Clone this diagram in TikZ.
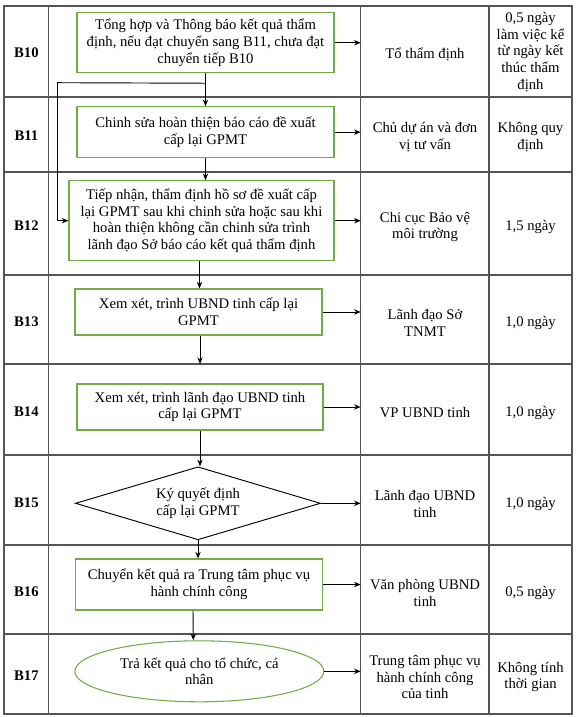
\documentclass[tikz,border=0pt]{standalone}
\usepackage{fontspec}
\setmainfont{Liberation Serif}
\usetikzlibrary{arrows.meta,shapes.geometric,calc}
\definecolor{boxgreen}{RGB}{112,173,71}
\definecolor{gridgray}{RGB}{85,85,85}
\tikzset{
  txt/.style={font=\fontsize{11pt}{12.5pt}\selectfont, align=center, inner sep=0pt},
  stepbox/.style={txt, draw=boxgreen, line width=0.8pt, rectangle},
  decbox/.style={txt, draw=black, line width=0.7pt, shape=diamond, aspect=3.3},
  endbox/.style={txt, draw=boxgreen, line width=0.8pt, shape=ellipse},
  lbl/.style={txt, font=\fontsize{11pt}{12.5pt}\selectfont\bfseries},
  cell/.style={txt, minimum width=96pt},
  arr/.style={draw=black, line width=0.7pt, -{Stealth[length=5pt,width=4pt]}},
  ln/.style={draw=black, line width=0.7pt},
  grid/.style={draw=gridgray, line width=0.9pt}
}
\begin{document}
\begin{tikzpicture}[x=0.75pt,y=-0.75pt]
\useasboundingbox (0,0) rectangle (576,717);
% table grid
\draw[grid] (4,6) rectangle (572,714);
\foreach \yy in {97,172,275,364,455,545,634}
  \draw[grid] (4,\yy) -- (572,\yy);
\foreach \xx in {48.7,360.7,489}
  \draw[grid] (\xx,6) -- (\xx,714);
% row labels
\node[lbl] (l10) at (26.4,53) {B10};
\node[lbl] (l11) at (26.4,136) {B11};
\node[lbl] (l12) at (26.4,226) {B12};
\node[lbl] (l13) at (26.4,322) {B13};
\node[lbl] (l14) at (26.4,412) {B14};
\node[lbl] (l15) at (26.4,503) {B15};
\node[lbl] (l16) at (26.4,592) {B16};
\node[lbl] (l17) at (26.4,676) {B17};
% flow boxes
\node[stepbox, minimum width=192.75pt, minimum height=45pt] (b10) at (205.5,42.7)
  {Tổng hợp và Thông báo kết quả thẩm\\định, nếu đạt chuyển sang B11, chưa đạt\\chuyển tiếp B10};
\node[stepbox, minimum width=192.75pt, minimum height=38.25pt] (b11) at (205.5,132.2)
  {Chinh sửa hoàn thiện báo cáo đề xuất\\cấp lại GPMT};
\node[stepbox, minimum width=198.75pt, minimum height=60pt] (b12) at (201.5,220.7)
  {Tiếp nhận, thẩm định hồ sơ đề xuất cấp\\lại GPMT sau khi chinh sửa hoặc sau khi\\hoàn thiện không cần chinh sửa trình\\lãnh đạo Sở báo cáo kết quả thẩm định};
\node[stepbox, minimum width=185.25pt, minimum height=34.5pt] (b13) at (198.5,312)
  {Xem xét, trình UBND tinh cấp lại\\GPMT};
\node[stepbox, minimum width=184.5pt, minimum height=34.5pt] (b14) at (200,407)
  {Xem xét, trình lãnh đạo UBND tinh\\cấp lại GPMT};
\node[decbox, minimum width=183.75pt, minimum height=54.75pt] (b15) at (198,503.3)
  {Ký quyết định\\cấp lại GPMT};
\node[stepbox, minimum width=185.25pt, minimum height=38.25pt] (b16) at (199,584.5)
  {Chuyển kết quả ra Trung tâm phục vụ\\hành chính công};
\node[endbox, minimum width=186.75pt, minimum height=45.75pt] (b17) at (199.3,671.3)
  {Trả kết quả cho tổ chức, cá\\nhân};
% column 3 cells
\node[cell] (c10) at (425,54) {Tổ thẩm định};
\node[cell] (c11) at (425,137) {Chủ dự án và đơn\\vị tư vấn};
\node[cell] (c12) at (425,227) {Chi cục Bảo vệ\\môi trường};
\node[cell] (c13) at (425,323) {Lãnh đạo Sở\\TNMT};
\node[cell] (c14) at (425,413) {VP UBND tinh};
\node[cell] (c15) at (425,504) {Lãnh đạo UBND\\tinh};
\node[cell] (c16) at (425,593) {Văn phòng UBND\\tinh};
\node[cell] (c17) at (425,677) {Trung tâm phục vụ\\hành chính công\\của tinh};
% column 4 cells
\node[txt] (d10) at (530.5,52) {0,5 ngày\\làm việc kể\\từ ngày kết\\thúc thẩm\\định};
\node[txt] (d11) at (530.5,137) {Không quy\\định};
\node[txt] (d12) at (530.5,227) {1,5 ngày};
\node[txt] (d13) at (530.5,323) {1,0 ngày};
\node[txt] (d14) at (530.5,413) {1,0 ngày};
\node[txt] (d15) at (530.5,504) {1,0 ngày};
\node[txt] (d16) at (530.5,593) {0,5 ngày};
\node[txt] (d17) at (530.5,677) {Không tính\\thời gian};
% horizontal arrows to responsible unit
\foreach \n in {10,11,12,13,14,15,16,17}
  \draw[arr] (b\n.east) -- (b\n.east -| c\n.west);
% vertical flow
\coordinate (split) at ($(b10.south)+(0,-7.5pt)$);
\draw[arr] (b10.south) -- (b10.south |- b11.north);
\draw[ln] (split) -- (57,82.7) coordinate (fbk1);
\draw[arr] (fbk1) -- (fbk1 |- b12.west) -- (b12.west);
\draw[arr] (b11.south) -- (b11.south |- b12.north);
\draw[arr] ([xshift=-1.5pt]b12.south) -- ([xshift=-1.5pt]b12.south |- b13.north);
\coordinate (rowline) at (200,364);
\draw[arr] (b13.south -| rowline) -- (rowline);
\draw[arr] (b14.south) -- (b14.south |- b15.north);
\draw[arr] (b15.south) -- (b15.south |- b16.north);
\draw[arr] ([xshift=-4.5pt]b16.south) -- ([xshift=-4.5pt]b17.north);
\end{tikzpicture}
\end{document}
